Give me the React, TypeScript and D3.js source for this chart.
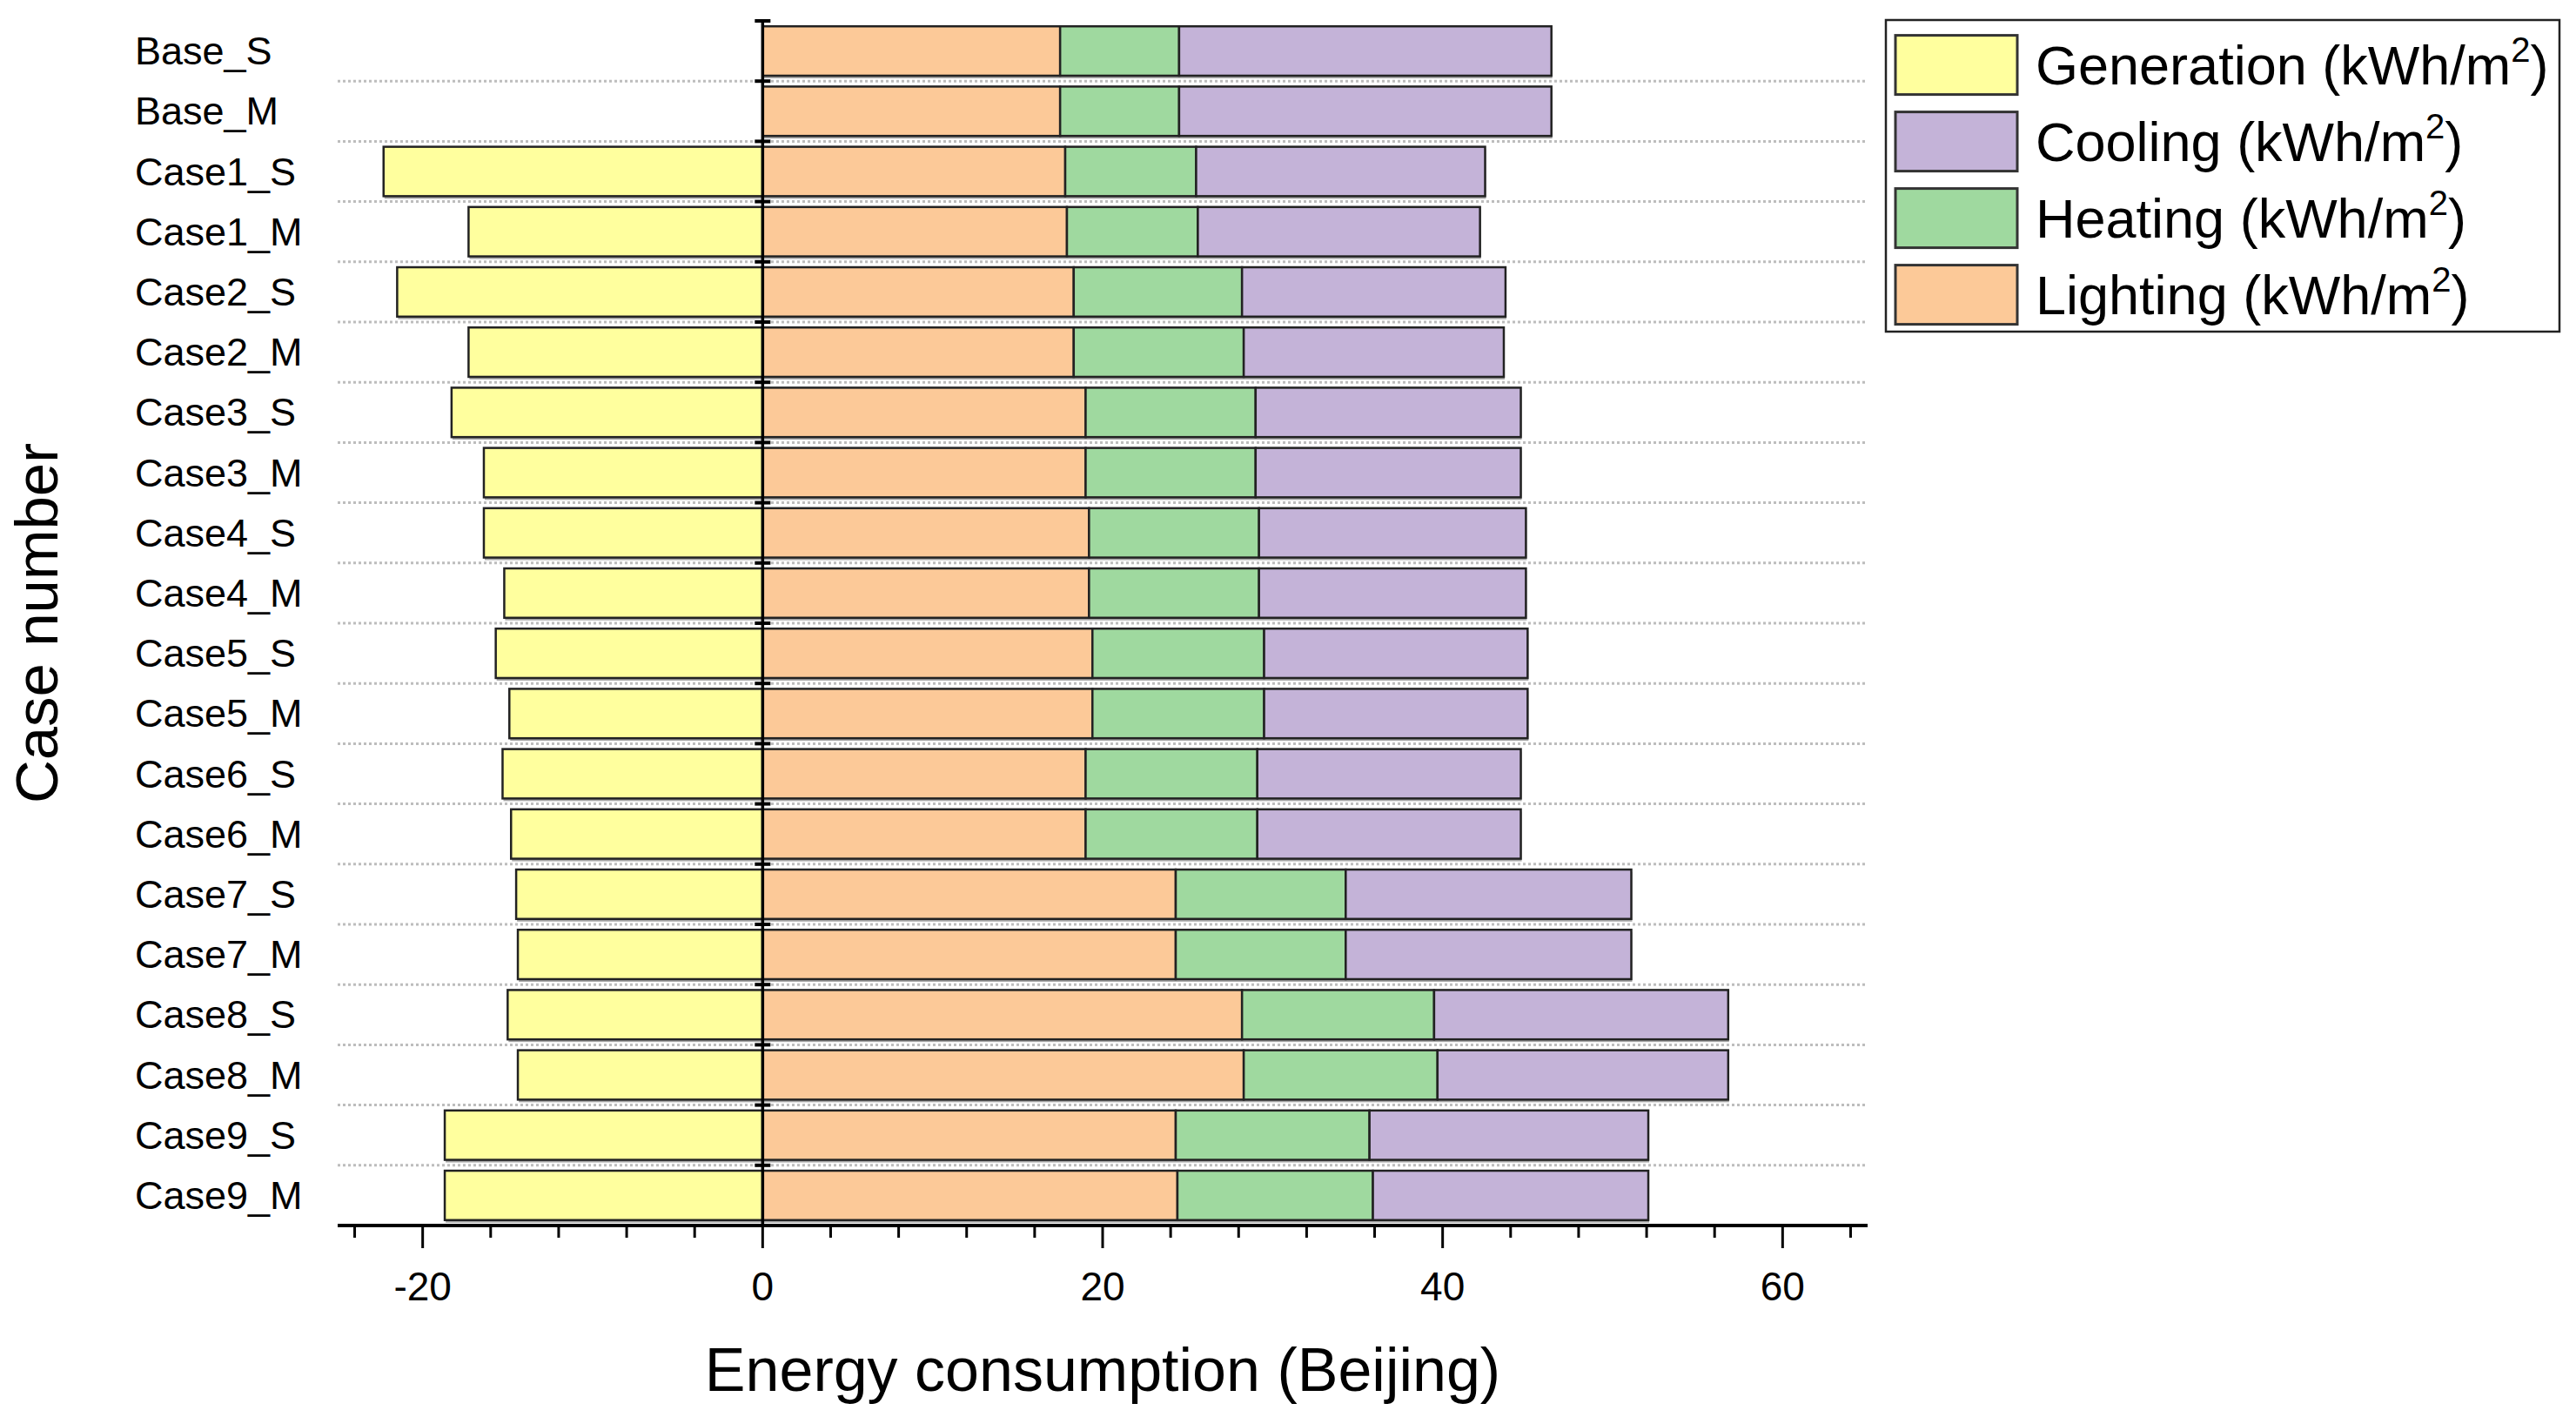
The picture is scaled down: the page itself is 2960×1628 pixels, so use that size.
import React from "react";
import * as d3 from "d3";

const categories = [
  "Base_S", "Base_M", "Case1_S", "Case1_M", "Case2_S", "Case2_M", "Case3_S", "Case3_M",
  "Case4_S", "Case4_M", "Case5_S", "Case5_M", "Case6_S", "Case6_M", "Case7_S", "Case7_M",
  "Case8_S", "Case8_M", "Case9_S", "Case9_M",
];
const generation = [0, 0, -22.3, -17.3, -21.5, -17.3, -18.3, -16.4, -16.4, -15.2, -15.7, -14.9, -15.3, -14.8, -14.5, -14.4, -15.0, -14.4, -18.7, -18.7];
const lighting = [17.5, 17.5, 17.8, 17.9, 18.3, 18.3, 19.0, 19.0, 19.2, 19.2, 19.4, 19.4, 19.0, 19.0, 24.3, 24.3, 28.2, 28.3, 24.3, 24.4];
const heating = [7.0, 7.0, 7.7, 7.7, 9.9, 10.0, 10.0, 10.0, 10.0, 10.0, 10.1, 10.1, 10.1, 10.1, 10.0, 10.0, 11.3, 11.4, 11.4, 11.5];
const cooling = [21.9, 21.9, 17.0, 16.6, 15.5, 15.3, 15.6, 15.6, 15.7, 15.7, 15.5, 15.5, 15.5, 15.5, 16.8, 16.8, 17.3, 17.1, 16.4, 16.2];
const xMajorTicks = [-20, 0, 20, 40, 60];
const legendNames = ["Generation", "Cooling", "Heating", "Lighting"];
const stackKeys = ["Lighting", "Heating", "Cooling"];
const colors: Record<string, string> = {
  Generation: "#FFFF9E",
  Cooling: "#C4B3D8",
  Heating: "#9FD99F",
  Lighting: "#FCC998",
};

const FONT = "'Liberation Sans', Arial, sans-serif";

export default function App() {
  const W = 2960;
  const H = 1628;
  const x = d3.scaleLinear().domain([-25, 65]).range([388, 2146]);
  const y = d3
    .scaleBand<string>()
    .domain(categories)
    .range([24, 1408])
    .paddingInner(0.18)
    .paddingOuter(0.09);
  const step = y.step();
  const top = 24;
  const bottom = 1408;

  const table = categories.map((c, i) => ({
    category: c,
    Lighting: lighting[i],
    Heating: heating[i],
    Cooling: cooling[i],
  }));
  const stacked = d3.stack<any>().keys(stackKeys)(table);
  const minorTicks = d3.range(-24, 65, 4).filter((t) => t % 20 !== 0);
  const boundaries = d3.range(1, categories.length).map((i) => top + i * step);

  const bw = y.bandwidth();

  return (
    <svg
      width={W}
      height={H}
      style={{ position: "absolute", left: 0, top: 0, background: "#fff" }}
      fontFamily={FONT}
    >
      <rect x={0} y={0} width={W} height={H} fill="#fff" />
      {/* grid lines */}
      {boundaries.map((b, i) => (
        <line
          key={"g" + i}
          x1={x(-25)}
          x2={x(65)}
          y1={b}
          y2={b}
          stroke="#bdbdbd"
          strokeWidth={3}
          strokeDasharray="3,3"
        />
      ))}
      {/* shadows */}
      {categories.map((c, i) => {
        const x0 = x(Math.min(0, generation[i]));
        const x1 = x(lighting[i] + heating[i] + cooling[i]);
        return (
          <rect
            key={"s" + i}
            x={x0 + 1}
            y={(y(c) as number) + 3}
            width={x1 - x0}
            height={bw}
            fill="#8a8a8a"
            opacity={0.75}
          />
        );
      })}
      {/* generation bars */}
      {categories.map((c, i) =>
        generation[i] < 0 ? (
          <rect
            key={"gen" + i}
            x={x(generation[i])}
            y={y(c)}
            width={x(0) - x(generation[i])}
            height={bw}
            fill={colors.Generation}
            stroke="#222"
            strokeWidth={2.5}
          />
        ) : null
      )}
      {/* stacked positive bars */}
      {stacked.map((s) =>
        s.map((d, i) => (
          <rect
            key={s.key + i}
            x={x(d[0])}
            y={y(categories[i])}
            width={x(d[1]) - x(d[0])}
            height={bw}
            fill={colors[s.key]}
            stroke="#222"
            strokeWidth={2.5}
          />
        ))
      )}
      {/* y axis at zero */}
      <line x1={x(0)} x2={x(0)} y1={top} y2={bottom} stroke="#000" strokeWidth={3.5} />
      {[top, ...boundaries].map((b, i) => (
        <line key={"yt" + i} x1={x(0) - 9} x2={x(0) + 9} y1={b} y2={b} stroke="#000" strokeWidth={4} />
      ))}
      {/* category labels */}
      {categories.map((c) => (
        <text
          key={"l" + c}
          x={155}
          y={(y(c) as number) + bw / 2}
          dominantBaseline="central"
          fontSize={45}
          fill="#000"
        >
          {c}
        </text>
      ))}
      {/* x axis */}
      <line x1={x(-25)} x2={x(65)} y1={bottom} y2={bottom} stroke="#000" strokeWidth={4} />
      {xMajorTicks.map((t) => (
        <g key={"xt" + t}>
          <line x1={x(t)} x2={x(t)} y1={bottom} y2={bottom + 26} stroke="#000" strokeWidth={3} />
          <text x={x(t)} y={bottom + 86} textAnchor="middle" fontSize={46} fill="#000">
            {String(t)}
          </text>
        </g>
      ))}
      {minorTicks.map((t) => (
        <line key={"mt" + t} x1={x(t)} x2={x(t)} y1={bottom} y2={bottom + 14} stroke="#000" strokeWidth={3} />
      ))}
      {/* axis titles */}
      <text x={(x(-25) + x(65)) / 2} y={1598} textAnchor="middle" fontSize={70} fill="#000">
        Energy consumption (Beijing)
      </text>
      <text
        transform={`translate(66, ${(top + bottom) / 2}) rotate(-90)`}
        textAnchor="middle"
        fontSize={69}
        fill="#000"
      >
        Case number
      </text>
      {/* legend */}
      <rect x={2167} y={23} width={774} height={358} fill="#fff" stroke="#222" strokeWidth={2.5} />
      {legendNames.map((n, i) => {
        const cy = 74.6 + i * 88;
        return (
          <g key={"lg" + n}>
            <rect x={2178} y={cy - 34} width={140} height={68} fill={colors[n]} stroke="#333" strokeWidth={3} />
            <text x={2339} y={cy + 22} fontSize={63} fill="#000">
              {n} (kWh/m
              <tspan dy={-26} fontSize={40}>
                2
              </tspan>
              <tspan dy={26}>)</tspan>
            </text>
          </g>
        );
      })}
    </svg>
  );
}
